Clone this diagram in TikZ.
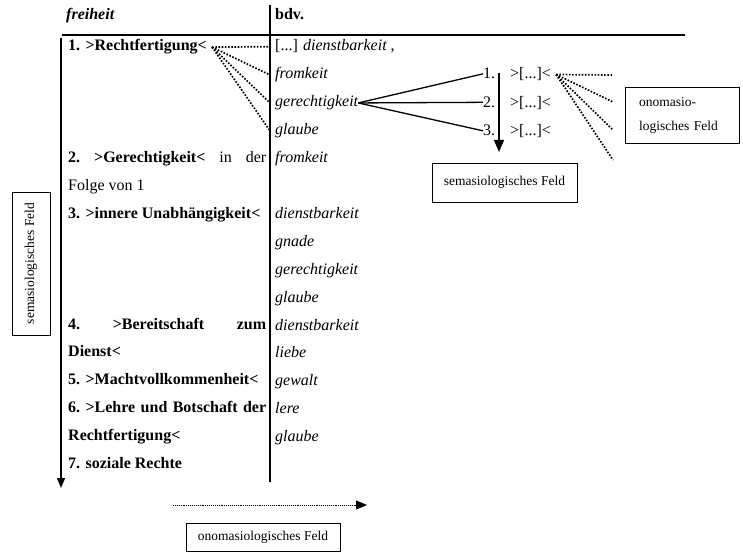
\documentclass[tikz,border=0pt]{standalone}
\usepackage{fontspec}
\setmainfont{Liberation Serif}
\usetikzlibrary{arrows.meta, positioning, calc}

\tikzset{
  lefttxt/.style={anchor=base west, inner sep=0pt, font=\fontsize{16}{18}\selectfont\bfseries},
  bdvtxt/.style={anchor=base west, inner sep=0pt, font=\fontsize{16}{18}\selectfont\itshape},
  numtxt/.style={anchor=base west, inner sep=0pt, font=\fontsize{16}{18}\selectfont},
  feldbox/.style={draw, line width=0.9pt, font=\fontsize{13.5}{16}\selectfont},
  dotlink/.style={line width=1.7pt, dash pattern=on 1.6pt off 1.6pt},
  senselink/.style={line width=1.3pt},
}

\begin{document}
\begin{tikzpicture}[x=1pt, y=-1pt]
  \useasboundingbox (0,0) rectangle (743,553);

  % ── Header + table rules ─────────────────────────────────────────
  \node[lefttxt, font=\fontsize{16}{18}\selectfont\bfseries\itshape] (hfrei) at (66,20) {freiheit};
  \node[lefttxt] (hbdv) at (275,20) {bdv.};
  \draw[line width=2pt] (62,35) -- (685,35);
  \draw[line width=2pt] (270,5) -- (270,482);

  % ── Left column: meanings of freiheit ────────────────────────────
  \node[lefttxt] (l1) at (68,51) {1. >Rechtfertigung<};
  \node[lefttxt] (l5) at (68,162.6) {\hbox to 198pt{2.\hfill>Gerechtigkeit<\hfill\mdseries in\hfill der}};
  \node[lefttxt, font=\fontsize{16}{18}\selectfont] (l6) at (68,190.5) {Folge von 1};
  \node[lefttxt] (l7) at (68,218.4) {3. >innere Unabhängigkeit<};
  \node[lefttxt] (l11) at (68,329) {\hbox to 198pt{4.\hfill>Bereitschaft\hfill zum}};
  \node[lefttxt] (l12) at (68,356.9) {Dienst<};
  \node[lefttxt] (l13) at (68,384.8) {5. >Machtvollkommenheit<};
  \node[lefttxt] (l14) at (68,412.7) {\hbox to 198pt{6.\hfill>Lehre\hfill und\hfill Botschaft\hfill der}};
  \node[lefttxt] (l15) at (68,440.6) {Rechtfertigung<};
  \node[lefttxt] (l16) at (68,468.5) {7. soziale Rechte};

  % ── Right column: bdv. words ─────────────────────────────────────
  \node[bdvtxt] (r1) at (275,51) {{\upshape[...]} dienstbarkeit {\upshape,}};
  \foreach \i/\w in {2/fromkeit, 3/gerechtigkeit, 4/glaube, 5/fromkeit,
                     7/dienstbarkeit, 8/gnade, 9/gerechtigkeit, 10/glaube,
                     11/dienstbarkeit, 12/liebe, 13/gewalt, 14/lere, 15/glaube}{
    \node[bdvtxt] (r\i) at (275, {51+27.9*(\i-1)}) {\w};
  }

  % ── Onomasiological links from 1. ────────────────────────────────
  \coordinate (d1) at ([xshift=5pt]l1.east);
  \foreach \r in {1,...,4}{
    \draw[dotlink] (d1) -- ([xshift=-5pt]r\r.west);
  }

  % ── Senses of gerechtigkeit ──────────────────────────────────────
  \foreach \n/\y in {1/79, 2/107.5, 3/136}{
    \node[numtxt] (n\n) at (483,\y) {\n.};
    \node[numtxt] (s\n) at (510,\y) {>[...]<};
    \draw[senselink] (r3.east) -- (n\n.west);
  }

  % ── Semasiological arrow + box ───────────────────────────────────
  \coordinate (sematop) at (499,73);
  \coordinate (semaend) at (499,152);
  \draw[line width=1.2pt, -{Triangle[length=12pt,width=10pt]}] (sematop) -- (semaend);
  \node[feldbox, minimum width=145pt, minimum height=39pt] (semabox) at (504.5,182.5) {semasiologisches Feld};

  % ── Onomasiological fan + box ────────────────────────────────────
  \coordinate (d2) at ([xshift=5pt]s1.east);
  \foreach \k/\y in {1/75, 2/102, 3/130, 4/160}{
    \coordinate (o\k) at (613,\y);
    \draw[dotlink] (d2) -- (o\k);
  }
  \node[feldbox, text width=86pt, inner xsep=14pt, minimum height=56pt, align=left,
        font=\fontsize{13.5}{24}\selectfont] (onobox) at (682,115) {onomasio-\\logisches Feld};

  % ── Axis arrows + labels ─────────────────────────────────────────
  \coordinate (vtop) at (61,38);
  \coordinate (vend) at (61,488);
  \draw[line width=1.4pt, -{Triangle[length=10pt,width=8pt]}] (vtop) -- (vend);
  \node[feldbox, rotate=90, minimum width=143pt, minimum height=38pt] (semaleft) at (31,263.5) {semasiologisches Feld};

  \coordinate (htop) at (173,505);
  \coordinate (hend) at (367,505);
  \draw[line width=0.9pt, densely dotted, -{Triangle[length=11pt,width=9pt]}] (htop) -- (hend);
  \node[feldbox, minimum width=154pt, minimum height=28pt] (onobottom) at (263,537) {onomasiologisches Feld};
\end{tikzpicture}
\end{document}
